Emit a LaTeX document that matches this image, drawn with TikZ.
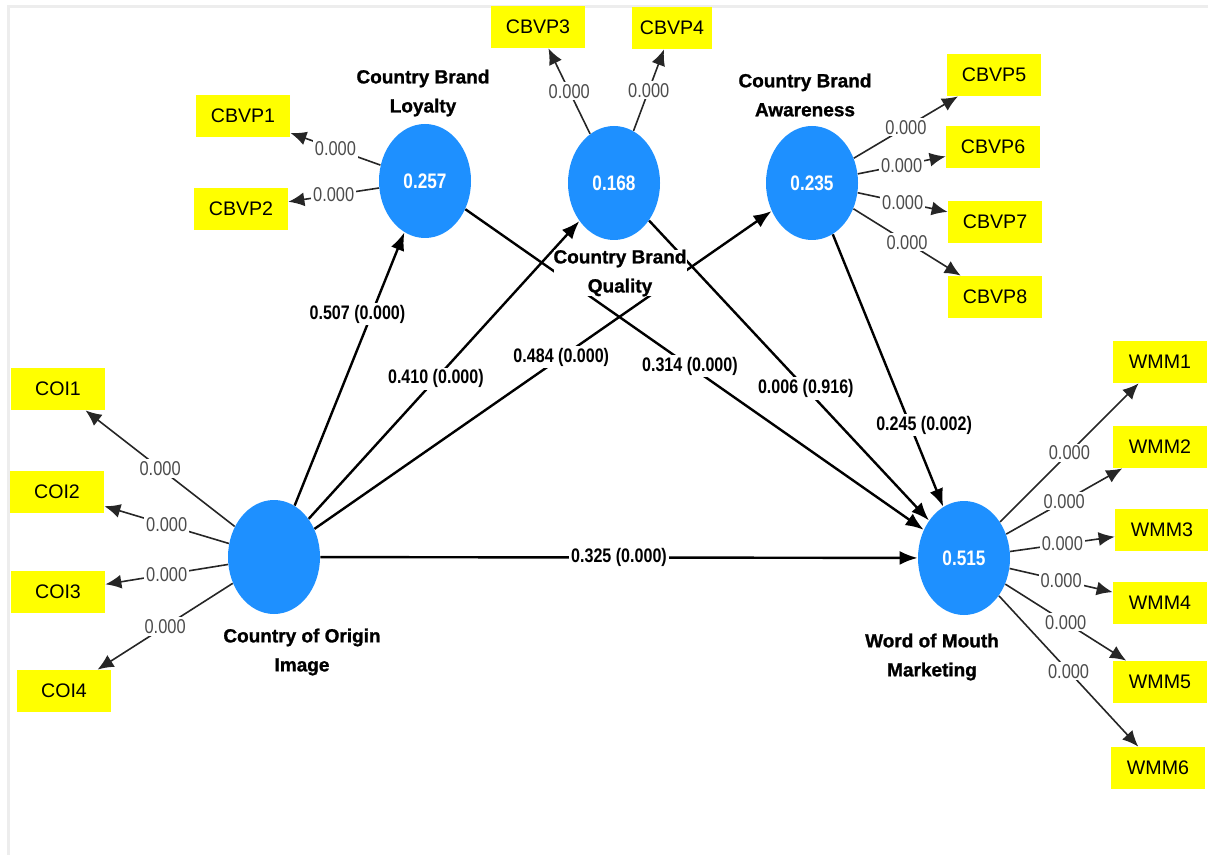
\documentclass[tikz,border=0pt]{standalone}
\usepackage{fontspec}
\setmainfont{Liberation Sans}
\newfontfamily\narrowfont[FakeStretch=0.82]{Liberation Sans}
\newfontfamily\heavyfont[BoldFeatures={FakeBold=1.2}]{Liberation Sans}
\usetikzlibrary{arrows.meta,shapes.geometric}

\definecolor{lvblue}{RGB}{30,144,255}
\definecolor{boxyellow}{RGB}{255,255,0}

\begin{document}
\begin{tikzpicture}
	[x=0.5pt, y=-0.5pt,
	latent/.style={ellipse, fill=lvblue, minimum width=46pt, minimum height=57pt, inner sep=0pt, text=white, font=\narrowfont\bfseries\fontsize{10.5}{12}\selectfont},
	ind/.style={fill=boxyellow, minimum width=47pt, minimum height=21pt, inner sep=1pt, font=\fontsize{9.8}{11}\selectfont},
	lvname/.style={align=center, inner sep=0pt, font=\heavyfont\bfseries\fontsize{9.5}{14.5}\selectfont},
	inner/.style={line width=1.2pt, -{Latex[length=9pt,width=7pt]}},
	outer/.style={line width=0.8pt, draw=black!85, -{Latex[length=8pt,width=7pt]}},
	coef/.style={fill=white, inner sep=1pt, font=\narrowfont\bfseries\fontsize{9.8}{11}\selectfont},
	ldg/.style={fill=white, inner sep=1pt, text=black!70, font=\narrowfont\fontsize{10}{11}\selectfont}]
	\useasboundingbox (0,0) rectangle (1208,855);
	\draw[line width=1.5pt, black!7] (8,855) -- (8,7) -- (1208,7);

	% constructs
	\node[latent] (coi) at (274,557) {};
	\node[latent] (cbl) at (425,181) {0.257};
	\node[latent] (cbq) at (614,183) {0.168};
	\node[latent] (cba) at (812,183) {0.235};
	\node[latent] (wom) at (964,558) {0.515};

	% indicators
	\node[ind] (cbvp1) at (243,116) {CBVP1};
	\node[ind] (cbvp2) at (241,209) {CBVP2};
	\node[ind] (cbvp3) at (538,27) {CBVP3};
	\node[ind, minimum width=40pt] (cbvp4) at (672,28) {CBVP4};
	\node[ind] (cbvp5) at (994,75) {CBVP5};
	\node[ind] (cbvp6) at (993,147) {CBVP6};
	\node[ind] (cbvp7) at (995,222) {CBVP7};
	\node[ind] (cbvp8) at (995,297) {CBVP8};
	\node[ind] (coi1) at (58,389) {COI1};
	\node[ind] (coi2) at (57,492) {COI2};
	\node[ind] (coi3) at (58,592) {COI3};
	\node[ind] (coi4) at (64,691) {COI4};
	\tikzstyle{every node}=[font=\bfseries\fontsize{9.8}{11}\selectfont]
	\node[ind] (wmm1) at (1160,362) {WMM1};
	\node[ind] (wmm2) at (1160,447) {WMM2};
	\node[ind] (wmm3) at (1162,530) {WMM3};
	\node[ind] (wmm4) at (1160,603) {WMM4};
	\node[ind] (wmm5) at (1160,682) {WMM5};
	\node[ind] (wmm6) at (1158,768) {WMM6};
	\tikzstyle{every node}=[]

	% outer model
	\draw[outer] (cbl) -- node[ldg] {0.000} (cbvp1);
	\draw[outer] (cbl) -- node[ldg] {0.000} (cbvp2);
	\draw[outer] (cbq) -- node[ldg] {0.000} (cbvp3);
	\draw[outer] (cbq) -- node[ldg] {0.000} (cbvp4);
	\draw[outer] (cba) -- node[ldg] {0.000} (cbvp5);
	\draw[outer] (cba) -- node[ldg] {0.000} (cbvp6);
	\draw[outer] (cba) -- node[ldg] {0.000} (cbvp7);
	\draw[outer] (cba) -- node[ldg] {0.000} (cbvp8);
	\draw[outer] (coi) -- node[ldg] {0.000} (coi1);
	\draw[outer] (coi) -- node[ldg] {0.000} (coi2);
	\draw[outer] (coi) -- node[ldg] {0.000} (coi3);
	\draw[outer] (coi) -- node[ldg] {0.000} (coi4);
	\draw[outer] (wom) -- node[ldg] {0.000} (wmm1);
	\draw[outer] (wom) -- node[ldg] {0.000} (wmm2);
	\draw[outer] (wom) -- node[ldg] {0.000} (wmm3);
	\draw[outer] (wom) -- node[ldg] {0.000} (wmm4);
	\draw[outer] (wom) -- node[ldg] {0.000} (wmm5);
	\draw[outer] (wom) -- node[ldg] {0.000} (wmm6);

	% inner model
	\draw[inner] (coi) -- node[coef, pos=.70, xshift=-7pt] {0.507 (0.000)} (cbl);
	\draw[inner] (coi) -- node[coef, pos=.47] {0.410 (0.000)} (cbq);
	\draw[inner] (coi) -- node[coef, pos=.54] {0.484 (0.000)} (cba);
	\draw[inner] (coi) -- node[coef] {0.325 (0.000)} (wom);
	\draw[inner] (cbl) -- node[coef, pos=.49] {0.314 (0.000)} (wom);
	\draw[inner] (cbq) -- node[coef, pos=.56] {0.006 (0.916)} (wom);
	\draw[inner] (cba) -- node[coef, pos=.70, xshift=7pt] {0.245 (0.002)} (wom);

	% construct names
	\node[lvname] (coiname) at (302,652) {Country of Origin\\Image};
	\node[lvname] (cblname) at (423,93) {Country Brand\\Loyalty};
	\node[lvname, fill=white] (cbqname) at (620,273) {Country Brand\\Quality};
	\node[lvname] (cbaname) at (805,95) {Country Brand\\Awareness};
	\node[lvname] (womname) at (932,657) {Word of Mouth\\Marketing};
\end{tikzpicture}
\end{document}
